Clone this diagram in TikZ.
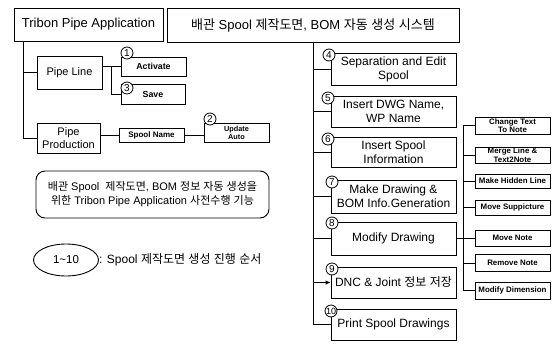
\documentclass[tikz,border=0pt]{standalone}
\usepackage{fontspec}
\setmainfont{Liberation Sans}
\newfontfamily\kr{Noto Sans CJK KR}
\usetikzlibrary{arrows.meta,shapes.geometric}
\tikzset{
  ln/.style={line width=0.9pt},
  box/.style={draw, line width=0.9pt, inner sep=1pt, align=center, fill=white},
  bigbox/.style={box, font=\fontsize{12}{14}\selectfont, minimum width=125pt},
  smallbox/.style={box, font=\bfseries\fontsize{7.9}{8.6}\selectfont, minimum width=75pt, inner sep=0pt},
  num/.style={circle, draw, line width=0.8pt, fill=white, inner sep=0pt, minimum size=12pt, font=\fontsize{10}{10}\selectfont},
}
\begin{document}
\begin{tikzpicture}[x=1pt, y=-1pt]
\useasboundingbox (0,0) rectangle (556,343);
% left part
\node[box, minimum width=149pt, minimum height=33pt, font=\fontsize{13}{15}\selectfont] (tribon) at (88.5,24.5) {Tribon Pipe Application};
\node[box, minimum width=292pt, minimum height=34pt, font=\fontsize{13}{15}\selectfont] (title) at (313,25) {{\kr 배관} Spool {\kr 제작도면}, BOM {\kr 자동} {\kr 생성} {\kr 시스템}};
\node[box, minimum width=65pt, minimum height=33pt, font=\fontsize{11}{13}\selectfont] (pl) at (69.5,72.5) {Pipe Line};
\node[box, minimum width=65pt, minimum height=19pt, font=\bfseries\fontsize{8.8}{10}\selectfont] (act) at (153.5,66.5) {Activate};
\node[box, minimum width=64pt, minimum height=20pt, font=\bfseries\fontsize{8.8}{10}\selectfont] (save) at (153,94) {Save};
\node[box, minimum width=63pt, minimum height=30pt, font=\fontsize{11}{13}\selectfont, inner sep=0pt] (pp) at (68.5,138) {Pipe\\Production};
\node[box, minimum width=65pt, minimum height=14pt, font=\bfseries\fontsize{8}{9}\selectfont, inner sep=0pt] (sn) at (151.5,135) {Spool Name};
\node[box, minimum width=65pt, minimum height=19pt, font=\bfseries\fontsize{7.3}{8}\selectfont, inner sep=0pt] (ua) at (236.5,132.5) {Update\\Auto};
\node[box, rounded corners=9pt, minimum width=233pt, minimum height=47pt, font=\fontsize{11}{14}\selectfont] (note) at (152.5,194.5) {{\kr 배관} Spool\ \ {\kr 제작도면}, BOM {\kr 정보} {\kr 자동} {\kr 생성을}\\{\kr 위한} Tribon Pipe Application {\kr 사전수행} {\kr 기능}};
\node[draw, ellipse, line width=0.9pt, minimum width=65pt, minimum height=32pt, inner sep=0pt, font=\fontsize{11.5}{13}\selectfont] (ell) at (66,260) {1\textasciitilde 10};
\node[anchor=west, inner sep=0pt, font=\fontsize{12}{14}\selectfont] (leg) at (99,260) {: Spool {\kr 제작도면} {\kr 생성} {\kr 진행} {\kr 순서}};
% left connectors
\coordinate (lt) at (23,0);
\coordinate (pv) at (111,0);
\draw[ln] (tribon.south -| lt) -- (pp.west -| lt) -- (pp.west);
\draw[ln] (pl.west -| lt) -- (pl.west);
\draw[ln] (pl.east |- act.west) -- (act.west);
\draw[ln] (pv |- act.west) -- (pv |- save.west) -- (save.west);
\draw[ln] (pp.east |- sn.west) -- (sn.west);
\draw[ln] (sn.east) -- (ua.west |- sn.east);
% right big boxes
\node[bigbox, minimum height=32pt] (b4) at (393.5,69) {Separation and Edit\\Spool};
\node[bigbox, minimum height=31pt] (b5) at (393.5,111.5) {Insert DWG Name,\\WP Name};
\node[bigbox, minimum height=30pt] (b6) at (393.5,152) {Insert Spool\\Information};
\node[bigbox, minimum height=33pt] (b7) at (393.5,196.5) {Make Drawing \&\\BOM Info.Generation};
\node[bigbox, minimum height=33pt] (b8) at (393.5,238.5) {Modify Drawing};
\node[bigbox, minimum height=31pt] (b9) at (393.5,282.5) {DNC \& Joint {\kr 정보} {\kr 저장}};
\node[bigbox, minimum height=31pt] (b10) at (393.5,324.5) {Print Spool Drawings};
% right trunk
\draw[ln] (title.south) -- (title.south |- b10.west) -- (b10.west);
\foreach \b in {b4,b5,b6,b7,b8} \draw[ln] (title.south |- \b.west) -- (\b.west);
\draw[ln, -{Latex[length=5pt,width=4.5pt]}] (title.south |- b9.west) -- (b9.west);
% small boxes
\node[smallbox, minimum height=17pt] (s1) at (512.5,125.5) {Change Text\\To Note};
\node[smallbox, minimum height=16pt] (s2) at (512.5,155) {Merge Line \&\\Text2Note};
\node[smallbox, minimum height=14pt] (s3) at (512.5,181) {Make Hidden Line};
\node[smallbox, minimum height=15pt] (s4) at (512.5,207.5) {Move Suppicture};
\node[smallbox, minimum height=16pt] (s5) at (512.5,238) {Move Note};
\node[smallbox, minimum height=17pt] (s6) at (512.5,263) {Remove Note};
\node[smallbox, minimum height=17pt] (s7) at (512.5,290.5) {Modify Dimension};
\coordinate (sv) at (463,0);
\draw[ln] (b8.east) -- (sv |- b8.east);
\draw[ln] (sv |- s1.west) -- (sv |- s7.west);
\foreach \s in {s1,s2,s3,s4,s5,s6,s7} \draw[ln] (sv |- \s.west) -- (\s.west);
% number circles
\node[num] (n1) at (127,53) {1};
\node[num] (n3) at (127,88) {3};
\node[num] (n2) at (210,119) {2};
\node[num] (n4) at (329,55) {4};
\node[num] (n5) at (328,98) {5};
\node[num] (n6) at (328,139) {6};
\node[num] (n7) at (332,182) {7};
\node[num] (n8) at (332,223) {8};
\node[num] (n9) at (332,269) {9};
\node[num, font=\fontsize{9}{9}\selectfont] (n10) at (331,311) {10};
\end{tikzpicture}
\end{document}
